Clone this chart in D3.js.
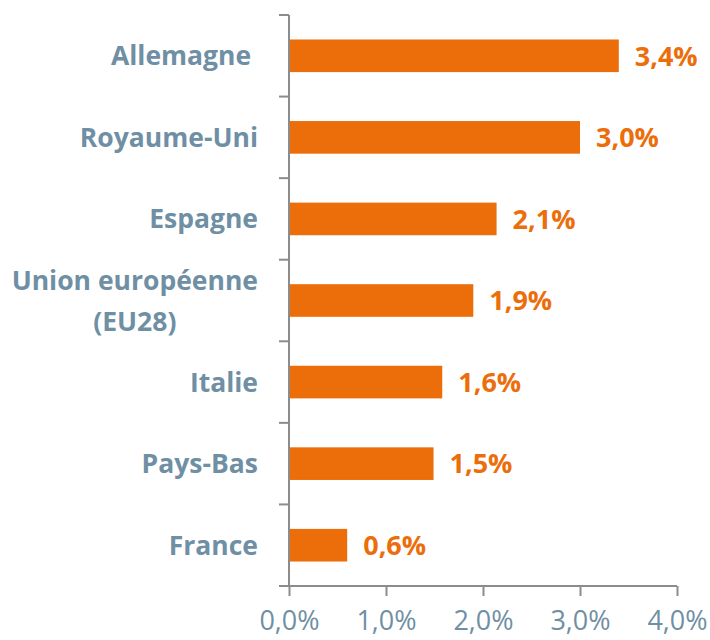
<!doctype html>
<html>
<head>
<meta charset="utf-8">
<style>
body { margin: 0; background: #fff; }
.bar { fill: #EC6E0B; }
.axis path, .axis line { stroke: #8c8c8c; stroke-width: 2px; }
.axis text { fill: #6F8FA4; font-family: "Open Sans", sans-serif; font-size: 27px; }
.cat { white-space: pre; }
</style>
<script src="https://d3js.org/d3.v7.min.js"></script>
</head>
<body>
<svg width="710" height="640"></svg>
<script>
var countries = ["Allemagne ", "Royaume-Uni", "Espagne", "Union européenne\n(EU28)", "Italie", "Pays-Bas", "France"];
var values = [3.4, 3.0, 2.14, 1.9, 1.58, 1.49, 0.6];
var xTicks = [0, 1, 2, 3, 4];

var svg = d3.select("svg");
var mLeft = 289, mRight = 677, mTop = 15, mBottom = 586;

var x = d3.scaleLinear().domain([0, 4]).range([mLeft, mRight]);
var y = d3.scaleBand().domain(countries).range([mTop, mBottom])
	.paddingInner(0.6).paddingOuter(0.3);

var fmt = function(d) { return d.toFixed(1).replace(".", ",") + "%"; };

// bars
svg.selectAll("rect").data(values).enter().append("rect")
	.attr("class", "bar")
	.attr("x", x(0))
	.attr("y", function(d, i) { return y(countries[i]); })
	.attr("height", y.bandwidth())
	.attr("width", function(d) { return x(d) - x(0); });

// value labels
svg.selectAll("text.val").data(values).enter().append("text")
	.attr("class", "val")
	.attr("x", function(d) { return x(d) + 16; })
	.attr("y", function(d, i) { return y(countries[i]) + y.bandwidth() / 2; })
	.attr("dy", "0.36em")
	.attr("fill", "#EC6E0B")
	.attr("font-family", "Open Sans, sans-serif")
	.attr("font-weight", "bold")
	.attr("font-size", "27px")
	.text(function(d) { return fmt(d); });

// x axis
var gx = svg.append("g").attr("class", "axis")
	.attr("transform", "translate(0," + mBottom + ")")
	.call(d3.axisBottom(x).tickValues(xTicks).tickSize(10).tickSizeOuter(10)
		.tickFormat(fmt));
gx.selectAll("text").attr("y", 25);
gx.select(".domain").attr("d", "M" + (mLeft - 10) + ",0H" + mRight);

// y axis: line with ticks between categories
var step = y.step();
var yTicks = d3.range(countries.length + 1).map(function(i) { return mTop + i * step; });
var gy = svg.append("g").attr("class", "axis");
gy.append("line").attr("x1", mLeft).attr("x2", mLeft).attr("y1", mTop).attr("y2", mBottom);
gy.selectAll("line.t").data(yTicks.slice(0, -1)).enter().append("line")
	.attr("class", "t")
	.attr("x1", mLeft - 10).attr("x2", mLeft)
	.attr("y1", function(d) { return d; }).attr("y2", function(d) { return d; });

// category labels
var labelX = 258;
countries.forEach(function(c) {
	var lines = c.split("\n");
	var cy = y(c) + y.bandwidth() / 2;
	var t = svg.append("text")
		.attr("class", "cat")
		.attr("fill", "#6F8FA4")
		.attr("font-family", "Open Sans, sans-serif")
		.attr("font-weight", "bold")
		.attr("font-size", "26.5px");
	if (lines.length === 1) {
		t.attr("x", labelX).attr("y", cy).attr("dy", "0.36em")
			.attr("text-anchor", "end").text(c);
	} else {
		var tmp = t.append("tspan").text(lines[0]);
		var w = tmp.node().getComputedTextLength();
		tmp.remove();
		var mid = labelX - w / 2;
		t.attr("text-anchor", "middle");
		lines.forEach(function(l, k) {
			t.append("tspan").attr("x", mid)
				.attr("y", cy + (k - (lines.length - 1) / 2) * 41)
				.attr("dy", "0.36em").text(l);
		});
	}
});
</script>
</body>
</html>
